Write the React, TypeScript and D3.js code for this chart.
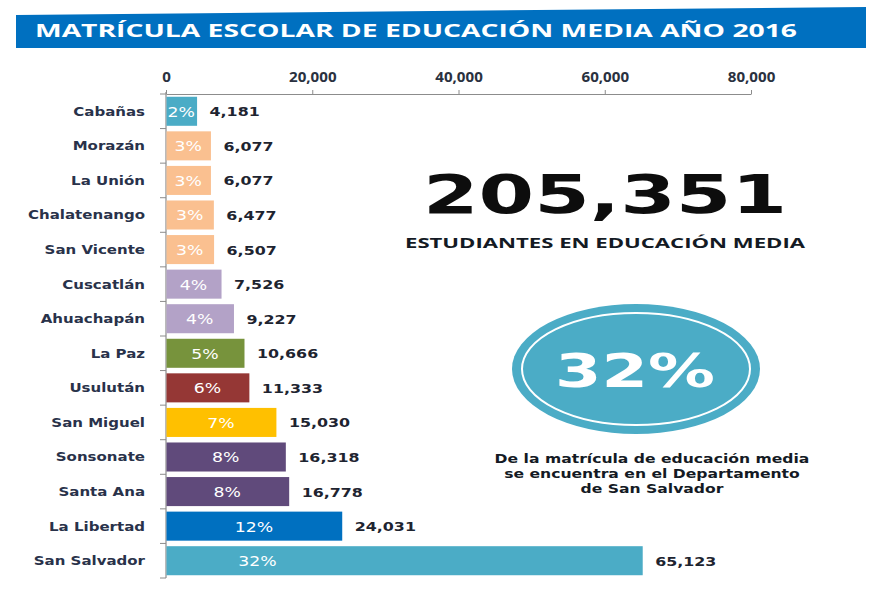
import React, { useEffect, useRef } from 'react'
import * as d3 from 'd3'

const categories = [
  'Cabañas', 'Morazán', 'La Unión', 'Chalatenango', 'San Vicente', 'Cuscatlán', 'Ahuachapán',
  'La Paz', 'Usulután', 'San Miguel', 'Sonsonate', 'Santa Ana', 'La Libertad', 'San Salvador',
]
const students = [4181, 6077, 6077, 6477, 6507, 7526, 9227, 10666, 11333, 15030, 16318, 16778, 24031, 65123]
const barColors = [
  '#4bacc6', '#fac090', '#fac090', '#fac090', '#fac090', '#b3a2c7', '#b3a2c7',
  '#77933c', '#953735', '#ffc000', '#604a7b', '#604a7b', '#0070c0', '#4bacc6',
]
const xTicks = [0, 20000, 40000, 60000, 80000]
const title = 'MATRÍCULA ESCOLAR DE EDUCACIÓN MEDIA AÑO 2016'
const subtitle = 'ESTUDIANTES EN EDUCACIÓN MEDIA'
const highlight = 'San Salvador'
const captionLines = ['De la matrícula de educación media', 'se encuentra en el Departamento', 'de San Salvador']

const W = 879
const H = 591
const VERDANA = '"DejaVu Sans", Verdana, sans-serif'
const CALIBRI = '"Open Sans", "DejaVu Sans", sans-serif'

// the picture is stretched sideways, so widen the glyphs to match
function widen(sel: any, k: number) {
  sel.each(function (this: any) {
    const w = this.getComputedTextLength()
    d3.select(this).attr('textLength', w * k).attr('lengthAdjust', 'spacingAndGlyphs')
  })
}

function App() {
  const svgRef = useRef<SVGSVGElement>(null)

  useEffect(() => {
    const svg = d3.select(svgRef.current)
    svg.selectAll('*').remove()

    const total = d3.sum(students)
    const rows = categories.map((c, i) => ({ name: c, value: students[i], color: barColors[i], pct: Math.round(students[i] / total * 100) }))

    const x = d3.scaleLinear().domain([0, 80000]).range([166, 751])
    const y = d3.scaleBand().domain(categories).range([94, 578]).paddingInner(0.16).paddingOuter(0.08)

    // banner
    svg.append('polygon')
      .attr('points', '16,15 866,7 866,48 16,48')
      .attr('fill', '#0070c0')
    svg.append('text')
      .attr('x', 35).attr('y', 37)
      .attr('fill', '#fff')
      .style('font-family', CALIBRI).style('font-weight', 700).style('font-size', '18px')
      .attr('textLength', 762).attr('lengthAdjust', 'spacingAndGlyphs')
      .text(title)

    // top axis
    const axis = svg.append('g')
      .attr('transform', `translate(0,94)`)
      .call(d3.axisTop(x).tickValues(xTicks).tickSize(4).tickSizeOuter(0).tickFormat(d3.format(',')))
    axis.select('.domain').attr('stroke', '#8c8c8c')
    axis.selectAll('line').attr('stroke', '#8c8c8c')
    axis.selectAll('text')
      .attr('y', -12).attr('dy', 0)
      .attr('fill', '#2a3140')
      .style('font-family', CALIBRI).style('font-weight', 700).style('font-size', '13.5px')
    widen(axis.selectAll('text'), 1.12)

    // left axis with ticks at band boundaries
    const half = y.step() * y.paddingInner() / 2
    const bounds = categories.map(c => (y(c) as number) - half).concat([(y(categories[categories.length - 1]) as number) + y.bandwidth() + half])
    svg.append('line')
      .attr('x1', x(0)).attr('x2', x(0))
      .attr('y1', 92).attr('y2', bounds[bounds.length - 1])
      .attr('stroke', '#8c8c8c').attr('stroke-width', 1.2)
    svg.selectAll('.ytick').data(bounds).enter().append('line')
      .attr('x1', x(0) - 6).attr('x2', x(0))
      .attr('y1', d => d).attr('y2', d => d)
      .attr('stroke', '#8c8c8c')

    // bars
    const row = svg.selectAll('.row').data(rows).enter().append('g')
      .attr('transform', d => `translate(0,${y(d.name)})`)
    row.append('rect')
      .attr('x', x(0) + 0.5)
      .attr('y', 0)
      .attr('width', d => x(d.value) - x(0))
      .attr('height', y.bandwidth())
      .attr('fill', d => d.color)

    const mid = y.bandwidth() / 2
    const cat = row.append('text')
      .attr('x', 145).attr('y', mid + 4.5)
      .attr('text-anchor', 'end')
      .attr('fill', '#29324a')
      .style('font-family', VERDANA).style('font-weight', 700).style('font-size', '12.5px')
      .text(d => d.name)
    widen(cat, 1.2)

    const val = row.append('text')
      .attr('x', d => x(d.value) + 13).attr('y', mid + 5)
      .attr('fill', '#1e2430')
      .style('font-family', VERDANA).style('font-weight', 700).style('font-size', '13px')
      .text(d => d3.format(',')(d.value))
    widen(val, 1.22)

    const pct = row.append('text')
      .attr('x', d => Math.min((x(0) + x(d.value)) / 2, x(12500)))
      .attr('y', mid + 5.5)
      .attr('text-anchor', 'middle')
      .attr('fill', '#fff')
      .style('font-family', VERDANA).style('font-size', '13.5px')
      .text(d => d.pct + '%')
    widen(pct, 1.28)

    // total
    svg.append('text')
      .attr('x', 605).attr('y', 213)
      .attr('text-anchor', 'middle')
      .attr('fill', '#0d0d0d')
      .style('font-family', VERDANA).style('font-weight', 700).style('font-size', '53px')
      .attr('textLength', 364).attr('lengthAdjust', 'spacingAndGlyphs')
      .text(d3.format(',')(total))
    svg.append('text')
      .attr('x', 605).attr('y', 248)
      .attr('text-anchor', 'middle')
      .attr('fill', '#141a24')
      .style('font-family', CALIBRI).style('font-weight', 700).style('font-size', '14.5px')
      .attr('textLength', 400).attr('lengthAdjust', 'spacingAndGlyphs')
      .text(subtitle)

    // highlight badge
    const hi = rows.find(r => r.name === highlight)!
    svg.append('ellipse')
      .attr('cx', 636).attr('cy', 369).attr('rx', 124).attr('ry', 65)
      .attr('fill', hi.color)
    svg.append('ellipse')
      .attr('cx', 636).attr('cy', 369).attr('rx', 114).attr('ry', 56)
      .attr('fill', 'none').attr('stroke', '#fff').attr('stroke-width', 2)
    svg.append('text')
      .attr('x', 635).attr('y', 387)
      .attr('text-anchor', 'middle')
      .attr('fill', '#fff')
      .style('font-family', VERDANA).style('font-weight', 700).style('font-size', '46px')
      .attr('textLength', 160).attr('lengthAdjust', 'spacingAndGlyphs')
      .text(hi.pct + '%')

    const cap = svg.selectAll('.cap').data(captionLines).enter().append('text')
      .attr('x', 652).attr('y', (d, i) => 463 + i * 15)
      .attr('text-anchor', 'middle')
      .attr('fill', '#141a24')
      .style('font-family', VERDANA).style('font-weight', 700).style('font-size', '12px')
      .text(d => d)
    widen(cap, 1.3)
  }, [])

  return (
    <svg ref={svgRef} width={W} height={H}
      style={{ position: 'absolute', left: 0, top: 0, background: '#fff' }} />
  )
}

export default App
